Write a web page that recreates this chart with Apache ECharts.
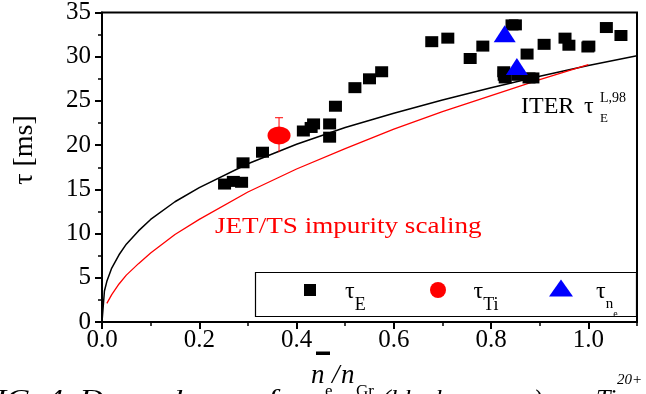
<!DOCTYPE html>
<html><head><meta charset="utf-8">
<script src="https://cdn.jsdelivr.net/npm/echarts@6/dist/echarts.min.js"></script>
<style>html,body{margin:0;padding:0;background:#fff}#c{width:646px;height:394px}</style>
</head><body><div id="c"></div>
<script>
// ---- data ----
const xTickLabels = ['0.0', '0.2', '0.4', '0.6', '0.8', '1.0'];
const yTickLabels = ['0', '5', '10', '15', '20', '25', '30', '35'];

const tauEx = [0.252, 0.270, 0.287, 0.290, 0.330, 0.414, 0.430, 0.435, 0.468, 0.468, 0.480, 0.520, 0.550, 0.575,
               0.678, 0.711, 0.757, 0.783, 0.843, 0.850, 0.826, 0.827, 0.829, 0.855, 0.874, 0.878, 0.886,
               0.909, 0.952, 0.960, 0.999, 1.001, 1.037, 1.067];
const tauEy = [15.6, 15.9, 15.8, 18.0, 19.2, 21.6, 22.0, 22.4, 22.4, 20.9, 24.4, 26.5, 27.5, 28.3,
               31.7, 32.1, 29.8, 31.2, 33.6, 33.6, 28.3, 27.9, 27.6, 27.9, 30.3, 27.6, 27.6,
               31.4, 32.1, 31.3, 31.1, 31.2, 33.3, 32.4];

const tauTiX = [0.364];
const tauTiY = [21.1];
const tauTiLow = [19.2];
const tauTiHigh = [23.1];

const tauNeX = [0.828, 0.853];
const tauNeY = [32.6, 28.9];

const iterX = [0, 0.005, 0.01, 0.02, 0.035, 0.05, 0.075, 0.1, 0.15, 0.2, 0.3, 0.4, 0.5, 0.6, 0.7, 0.8, 0.9, 1.0, 1.1];
const iterY = [0, 3.5, 4.6, 6.1, 7.6, 8.8, 10.3, 11.6, 13.6, 15.2, 17.9, 20.1, 22.0, 23.6, 25.1, 26.5, 27.8, 29.0, 30.1];

const jetX = [0.01, 0.02, 0.035, 0.05, 0.075, 0.1, 0.15, 0.2, 0.3, 0.4, 0.5, 0.6, 0.7, 0.8, 0.9, 1.0];
const jetY = [2.1, 3.1, 4.3, 5.3, 6.6, 7.8, 9.9, 11.6, 14.7, 17.3, 19.6, 21.8, 23.8, 25.6, 27.4, 29.1];

// ---- build ----
const SERIF = "'Liberation Serif', 'Times New Roman', serif";
const zip = (a, b) => a.map((v, i) => [v, b[i]]);

function txt(text, x, baseline, size, opts) {
  opts = opts || {};
  return {
    type: 'text', x: x, y: baseline - 0.3375 * size, scaleX: opts.scaleX || 1, rotation: opts.rotation || 0,
    z: 100,
    style: {
      text: text, fontSize: size, fontFamily: SERIF, fontStyle: opts.italic ? 'italic' : 'normal',
      fill: opts.color || '#000', align: opts.align || 'left', verticalAlign: 'middle'
    }
  };
}

function legendCfg(name, left, iconCenterY, w, h, formatter, rich, blockH) {
  return {
    data: [name], left: left, top: iconCenterY - blockH / 2, padding: 0,
    itemWidth: w, itemHeight: h, selectedMode: false, orient: 'horizontal',
    formatter: formatter,
    itemStyle: { opacity: 1 },
    textStyle: { color: '#000', fontFamily: SERIF, rich: rich }
  };
}
const tok = (size, padTop, extra) => Object.assign({ fontSize: size, lineHeight: size, fontFamily: SERIF, color: '#000', verticalAlign: 'top', padding: [padTop, 0, 0, 0] }, extra || {});

const chart = echarts.init(document.getElementById('c'), null, { renderer: 'canvas' });
const axisLineStyle = { color: '#000', width: 2 };

const option = {
  animation: false,
  backgroundColor: '#fff',
  grid: { left: 102, right: 9, top: 12, bottom: 72, show: true, borderColor: '#000', borderWidth: 2 },
  xAxis: [
    {
      type: 'value', min: 0, max: 1.1, interval: 0.1, position: 'bottom',
      axisLine: { lineStyle: axisLineStyle },
      axisTick: { show: true, inside: false, length: 4, lineStyle: { color: '#000', width: 1.5 } },
      axisLabel: { show: false }, splitLine: { show: false }
    },
    {
      type: 'value', min: 0, max: 1.1, interval: 0.2, position: 'bottom',
      axisLine: { show: true, lineStyle: axisLineStyle },
      axisTick: { show: true, inside: false, length: 7, lineStyle: { color: '#000', width: 2 } },
      axisLabel: {
        margin: 6, fontSize: 25, fontFamily: SERIF, color: '#000', showMaxLabel: false,
        formatter: v => { const i = Math.round(v / 0.2); return (Math.abs(v - i * 0.2) < 1e-6 && xTickLabels[i]) ? xTickLabels[i] : ''; }
      },
      splitLine: { show: false }
    }
  ],
  yAxis: {
    type: 'value', min: 0, max: 35, interval: 5,
    axisLine: { show: true, lineStyle: axisLineStyle },
    axisTick: { show: true, inside: false, length: 7, lineStyle: { color: '#000', width: 2 } },
    minorTick: { show: true, splitNumber: 2, length: 4, lineStyle: { color: '#000', width: 1.5 } },
    axisLabel: {
      margin: 11, fontSize: 25, fontFamily: SERIF, color: '#000',
      formatter: v => yTickLabels[Math.round(v / 5)] || ''
    },
    splitLine: { show: false }
  },
  legend: [
    legendCfg('τE', 304, 290, 12, 12, () => '{g| }{t|τ}{s|E}',
      { g: { width: 24, height: 60, verticalAlign: 'top' }, t: tok(24, 20), s: tok(18, 36) }, 60),
    legendCfg('τTi', 430, 290, 21, 16, () => '{g| }{t|τ}{s|Ti}',
      { g: { width: 20, height: 60, verticalAlign: 'top' }, t: tok(24, 20), s: tok(18, 36) }, 60),
    legendCfg('τne', 549, 288, 24, 17, () => '{g| }{t|τ}{n|n}{e|e}',
      { g: { width: 18, height: 64, verticalAlign: 'top' }, t: tok(24, 24), n: tok(15, 41), e: tok(10, 53) }, 64)
  ],
  series: [
    {
      name: 'ITER', type: 'line', data: zip(iterX, iterY), showSymbol: false, smooth: false,
      lineStyle: { color: '#000', width: 1.5 }, itemStyle: { color: '#000' }, z: 1, silent: true
    },
    {
      name: 'JET', type: 'line', data: zip(jetX, jetY), showSymbol: false, smooth: false,
      lineStyle: { color: '#ff0000', width: 1.3 }, itemStyle: { color: '#ff0000' }, z: 1, silent: true
    },
    {
      name: 'errTi', type: 'custom', z: 2,
      data: tauTiX.map((v, i) => [v, tauTiLow[i], tauTiHigh[i]]),
      renderItem: (params, api) => {
        const p0 = api.coord([api.value(0), api.value(1)]);
        const p1 = api.coord([api.value(0), api.value(2)]);
        return {
          type: 'group', children: [
            { type: 'line', shape: { x1: p0[0], y1: p0[1], x2: p1[0], y2: p1[1] }, style: { stroke: '#ff0000', lineWidth: 1 } },
            { type: 'line', shape: { x1: p1[0] - 4, y1: p1[1], x2: p1[0] + 4, y2: p1[1] }, style: { stroke: '#ff0000', lineWidth: 1 } }
          ]
        };
      }
    },
    {
      name: 'τE', type: 'scatter', data: zip(tauEx, tauEy), symbol: 'rect', symbolSize: [13, 11],
      itemStyle: { color: '#000', opacity: 1 }, z: 3
    },
    {
      name: 'τTi', type: 'scatter', data: zip(tauTiX, tauTiY), symbol: 'circle', symbolSize: [23, 18],
      itemStyle: { color: '#ff0000', opacity: 1 }, z: 4
    },
    {
      name: 'τne', type: 'scatter', data: zip(tauNeX, tauNeY), symbol: 'triangle', symbolSize: [22, 17],
      itemStyle: { color: '#0000ff', opacity: 1 }, z: 5
    }
  ],
  graphic: [
    { type: 'rect', z: 50, shape: { x: 255.5, y: 272.5, width: 381, height: 44 }, style: { fill: null, stroke: '#000', lineWidth: 1.2 } },
    // ITER annotation
    txt('ITER', 521, 115, 24),
    txt('τ', 584, 115, 24),
    txt('E', 600, 123, 13),
    txt('L,98', 600, 103, 14),
    // JET annotation
    txt('JET/TS impurity scaling', 215, 235, 24, { color: '#ff0000', scaleX: 1.13 }),
    // y axis title
    { type: 'text', x: 24.4, y: 150, rotation: Math.PI / 2, z: 100,
      style: { text: 'τ [ms]', fontSize: 28, fontFamily: SERIF, fill: '#000', align: 'center', verticalAlign: 'middle' } },
    // x axis title
    txt('n', 311, 385, 27, { italic: true }),
    txt('e', 325, 397, 17),
    txt('/', 332, 385, 27, { italic: true }),
    txt('n', 341, 385, 27, { italic: true }),
    txt('Gr', 356, 397, 17),
    { type: 'rect', z: 100, shape: { x: 316, y: 351.5, width: 14, height: 3.5 }, style: { fill: '#000' } },
    // caption (cut off at the bottom)
    txt('FIG. 4. Dependence of', -25, 409, 26, { italic: true, scaleX: 1.27 }),
    txt('(black squares)', 382, 409, 26, { italic: true }),
    txt('Ti', 596, 409, 26, { italic: true }),
    txt('20+', 617, 385, 15, { italic: true })
  ]
};
chart.setOption(option);
</script></body></html>
